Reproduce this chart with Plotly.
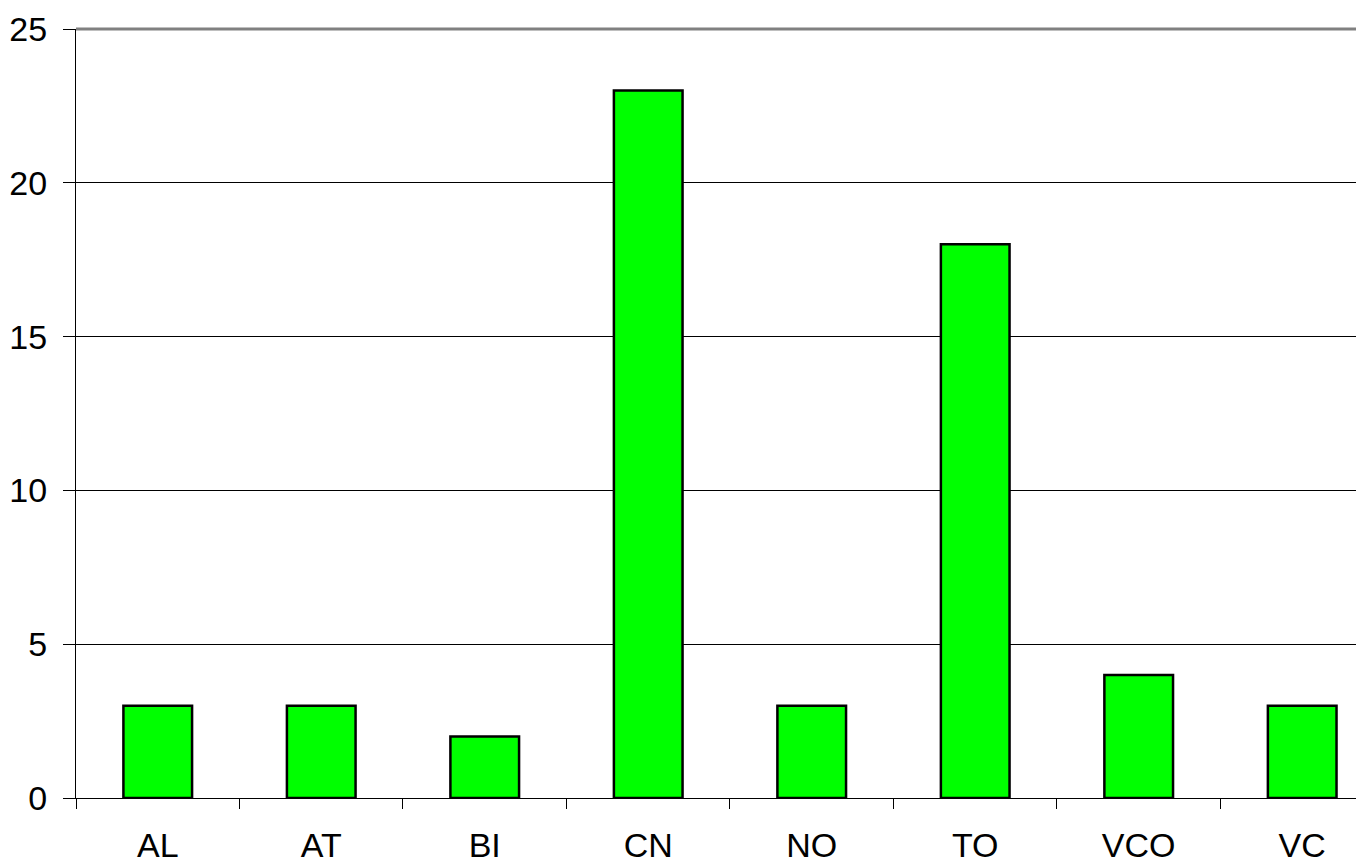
import plotly.graph_objects as go

categories = ["AL", "AT", "BI", "CN", "NO", "TO", "VCO", "VC"]
values = [3, 3, 2, 23, 3, 18, 4, 3]
y_ticks = [0, 5, 10, 15, 20, 25]

fig = go.Figure(go.Bar(
    x=categories, y=values,
    marker=dict(color="#00FF00", line=dict(color="black", width=2.5)),
    width=0.42,
))

fig.update_layout(
    width=1356, height=855,
    margin=dict(l=68, r=0, t=21, b=65),
    plot_bgcolor="white", paper_bgcolor="white",
    font=dict(family="Liberation Sans, Arial, sans-serif", size=34, color="black"),
    showlegend=False,
)
fig.update_xaxes(
    type="category",
    range=[-0.5, 7.378],
    tickson="boundaries",
    ticks="outside", ticklen=10, tickwidth=1, tickcolor="black",
    showline=True, linecolor="black", linewidth=1,
    showgrid=False,
    ticklabelstandoff=17,
    automargin=False,
)
fig.update_yaxes(
    range=[0, 25],
    tickvals=y_ticks,
    ticks="outside", ticklen=12, tickwidth=1, tickcolor="black",
    showline=True, linecolor="black", linewidth=1,
    showgrid=True, gridcolor="black", gridwidth=1,
    zeroline=False,
    ticklabelstandoff=9,
    automargin=False,
)
fig.add_shape(type="line", xref="paper", yref="paper", x0=0, x1=1, y0=1, y1=1,
              line=dict(color="#808080", width=3))

fig.write_html("out.html")
